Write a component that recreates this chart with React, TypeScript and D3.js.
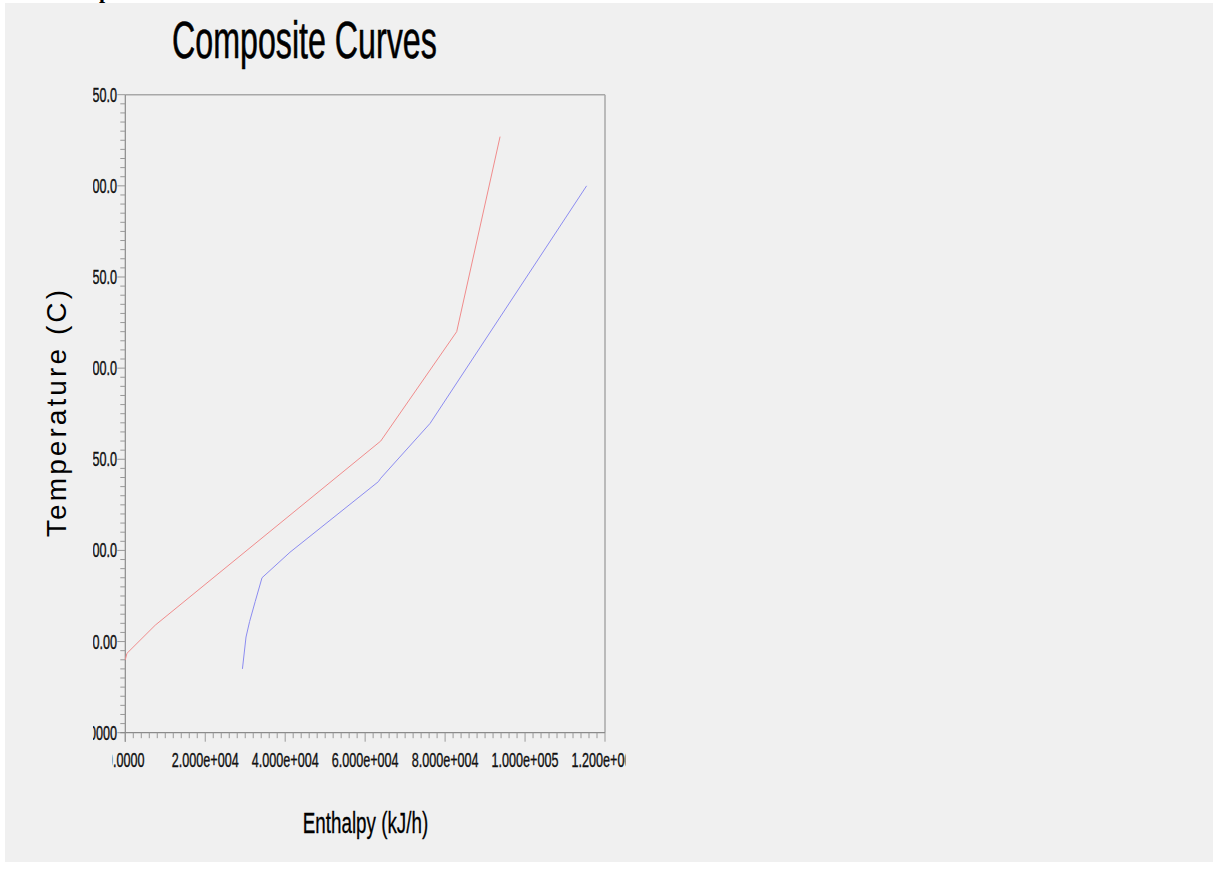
import React from "react";
import * as d3 from "d3";

const hotCurve: [number, number][] = [
  [0, 40],
  [400, 43.5],
  [7500, 59],
  [63900, 160],
  [82900, 220],
  [93750, 327],
];
const coldCurve: [number, number][] = [
  [29300, 35],
  [30200, 52.5],
  [31100, 61],
  [32500, 72],
  [34200, 85],
  [41200, 99],
  [63300, 137.7],
  [63900, 139.6],
  [76250, 169.7],
  [115400, 300],
];
const yTickValues = [0, 50, 100, 150, 200, 250, 300, 350];
const yTickLabels = ["0.0000", "50.00", "100.0", "150.0", "200.0", "250.0", "300.0", "350.0"];
const xTickValues = [0, 20000, 40000, 60000, 80000, 100000, 120000];
const xTickLabels = ["0.0000", "2.000e+004", "4.000e+004", "6.000e+004", "8.000e+004", "1.000e+005", "1.200e+005"];

const FONT = "'Liberation Sans', Arial, sans-serif";
const SY = 1.55;

export default function App() {
  const left = 125.3, right = 605, top = 94.7, bottom = 732.7;
  const x = d3.scaleLinear().domain([0, 120000]).range([left, right]);
  const y = d3.scaleLinear().domain([0, 350]).range([bottom, top]);
  const line = d3
    .line<[number, number]>()
    .x((d) => x(d[0]))
    .y((d) => y(d[1]));

  const yMinor = d3.range(0, 351, 5);
  const xMinor = d3.range(0, 120001, 2000);

  return (
    <svg
      width={1213}
      height={876}
      style={{ position: "absolute", left: 0, top: 0, background: "#ffffff" }}
    >
      <defs>
        <clipPath id="yclip">
          <rect x={93} y={0} width={200} height={876} />
        </clipPath>
        <clipPath id="xclip">
          <rect x={112.5} y={700} width={513} height={100} />
        </clipPath>
      </defs>
      <rect x={5} y={3} width={1208} height={859} fill="#f0f0f0" />
      <text x={99} y={-2} fontFamily="serif" fontWeight="bold" fontSize={22} fill="#000">
        p
      </text>

      {/* Title */}
      <g transform={`translate(172,57.5) scale(1,1.6)`}>
        <text x={0} y={0} fontFamily={FONT} fontSize={32.2} fill="#000" stroke="#000" strokeWidth={0.35}>
          Composite Curves
        </text>
      </g>

      {/* frame */}
      <line x1={left} x2={right} y1={top} y2={top} stroke="#a8a8a8" strokeWidth={1.5} />
      <line x1={right} x2={right} y1={top} y2={bottom} stroke="#a8a8a8" strokeWidth={1.5} />

      {/* y axis */}
      <line x1={left} x2={left} y1={top} y2={bottom + 9} stroke="#8a8a8a" strokeWidth={1.2} />
      {yMinor.map((v) => (
        <line
          key={"ym" + v}
          x1={left - (v % 50 === 0 ? 8 : 5)}
          x2={left}
          y1={y(v)}
          y2={y(v)}
          stroke="#999"
          strokeWidth={1}
        />
      ))}
      <g clipPath="url(#yclip)">
        {yTickValues.map((v, i) => (
          <g key={"yl" + v} transform={`translate(117,${y(v) + 7}) scale(1,${SY})`}>
            <text x={0} y={0} textAnchor="end" fontFamily={FONT} fontSize={12.6} fill="#111" stroke="#111" strokeWidth={0.25}>
              {yTickLabels[i]}
            </text>
          </g>
        ))}
      </g>

      {/* x axis */}
      <line x1={left - 5} x2={right} y1={bottom} y2={bottom} stroke="#8a8a8a" strokeWidth={1.2} />
      {xMinor.map((v) => (
        <line
          key={"xm" + v}
          x1={x(v)}
          x2={x(v)}
          y1={bottom}
          y2={bottom + (v % 20000 === 0 ? 9 : 5.5)}
          stroke="#999"
          strokeWidth={1}
        />
      ))}
      <g clipPath="url(#xclip)">
        {xTickValues.map((v, i) => (
          <g key={"xl" + v} transform={`translate(${x(v)},767.3) scale(1,${SY})`}>
            <text x={0} y={0} textAnchor="middle" fontFamily={FONT} fontSize={12.6} fill="#111" stroke="#111" strokeWidth={0.25}>
              {xTickLabels[i]}
            </text>
          </g>
        ))}
      </g>

      {/* curves */}
      <path d={line(hotCurve) || ""} fill="none" stroke="#f08c8c" strokeWidth={1} />
      <path d={line(coldCurve) || ""} fill="none" stroke="#8c8cf0" strokeWidth={1} />

      {/* axis titles */}
      <g transform={`translate(${302.7 + 62.8},832.6) scale(1,${SY})`}>
        <text x={0} y={0} textAnchor="middle" fontFamily={FONT} fontSize={18.8} fill="#000" stroke="#000" strokeWidth={0.2}>
          Enthalpy (kJ/h)
        </text>
      </g>
      <text
        transform="translate(66,413.5) rotate(-90)"
        x={0}
        y={0}
        textAnchor="middle"
        fontFamily={FONT}
        fontSize={28}
        textLength={247}
        lengthAdjust="spacing"
        fill="#000"
      >
        Temperature (C)
      </text>
    </svg>
  );
}
